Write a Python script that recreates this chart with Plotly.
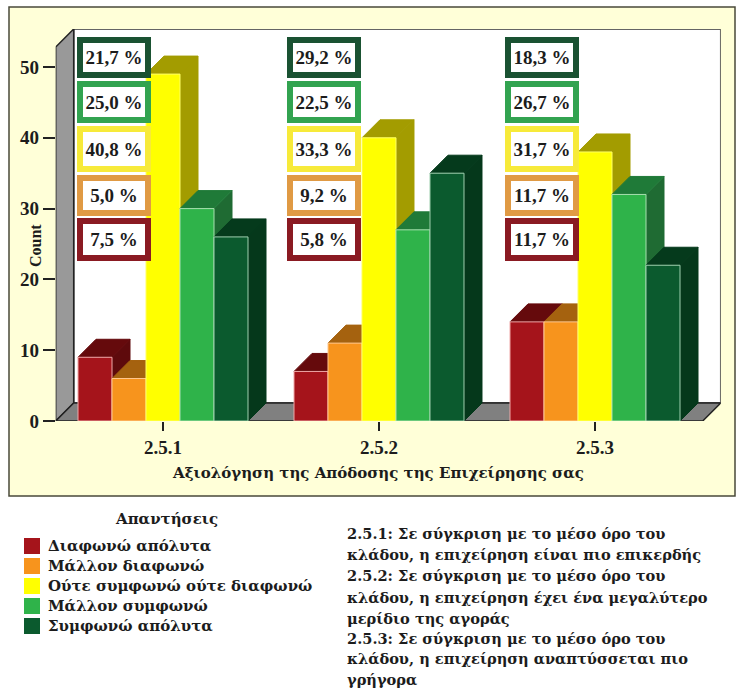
import plotly.graph_objects as go

# ---------- data ----------
categories = ["2.5.1", "2.5.2", "2.5.3"]
series_names = ["Διαφωνώ απόλυτα", "Μάλλον διαφωνώ", "Ούτε συμφωνώ ούτε διαφωνώ",
                "Μάλλον συμφωνώ", "Συμφωνώ απόλυτα"]
disagree_fully = [9, 7, 14]
disagree_rather = [6, 11, 14]
neutral = [49, 40, 38]
agree_rather = [30, 27, 32]
agree_fully = [26, 35, 22]
series_values = [disagree_fully, disagree_rather, neutral, agree_rather, agree_fully]

pct_agree_fully = ["21,7 %", "29,2 %", "18,3 %"]
pct_agree_rather = ["25,0 %", "22,5 %", "26,7 %"]
pct_neutral = ["40,8 %", "33,3 %", "31,7 %"]
pct_disagree_rather = ["5,0 %", "9,2 %", "11,7 %"]
pct_disagree_fully = ["7,5 %", "5,8 %", "11,7 %"]
pct_rows = [pct_agree_fully, pct_agree_rather, pct_neutral, pct_disagree_rather, pct_disagree_fully]

note_lines = [
    "2.5.1: Σε σύγκριση με το μέσο όρο του",
    "κλάδου, η επιχείρηση είναι πιο επικερδής",
    "2.5.2: Σε σύγκριση με το μέσο όρο του",
    "κλάδου, η επιχείρηση έχει ένα μεγαλύτερο",
    "μερίδιο της αγοράς",
    "2.5.3: Σε σύγκριση με το μέσο όρο του",
    "κλάδου, η επιχείρηση αναπτύσσεται πιο",
    "γρήγορα",
]

# ---------- styles ----------
W, H = 736, 688
FONT = "Liberation Serif"
WIDE = "DejaVu Serif"
INK = "#1c1c1c"
front_cols = ["#a5141b", "#f7941d", "#ffff00", "#2fb34a", "#0b5a2e"]
top_cols = ["#650a0c", "#a5620f", "#a39c00", "#1f7a38", "#053a1c"]
side_cols = ["#5e0a0c", "#a5620f", "#a39c00", "#1f6b33", "#05381b"]
edge_cols = ["#f0a8a8", "#ffc890", "#ffff66", "#a8e0b0", "#a0d0b0"]
box_cols = ["#1a5232", "#32a350", "#f7ea3a", "#e09a44", "#8a1a22"]
box_tops = [37, 81, 126, 175, 218]
box_bots = [78, 123, 172, 216, 261]
box_lefts = [77, 287, 505]
BOX_W = 74
BOX_BW = 6

# plot geometry in pixels
PL, PR, PT, PB = 55.7, 720.7, 29, 421
CX0, CSTEP = 163, 216
PX_PER_UNIT = 7.08
xr = [(PL - CX0) / CSTEP, (PR - CX0) / CSTEP]
yr = [0, (PB - PT) / PX_PER_UNIT]
DX = 18 / CSTEP
DY = 18 / PX_PER_UNIT
BW = 34 / CSTEP


def px(x):
    return x / W


def py(y):
    return 1 - y / H


fig = go.Figure()


def poly(xs, ys, fill, edge, name):
    fig.add_trace(go.Scatter(
        x=xs + xs[:1], y=ys + ys[:1], mode="lines", fill="toself", fillcolor=fill,
        line=dict(color=edge, width=1), name=name, showlegend=False, hoverinfo="name",
    ))


for c in range(len(categories)):
    for s, name in enumerate(series_names):
        v = series_values[s][c]
        x0 = c + (s - 2.5) * BW
        x1 = x0 + BW
        poly([x1, x1 + DX, x1 + DX, x1], [0, DY, v + DY, v], side_cols[s], side_cols[s], name)
        poly([x0, x0 + DX, x1 + DX, x1], [v, v + DY, v + DY, v], top_cols[s], top_cols[s], name)
        poly([x0, x1, x1, x0], [0, 0, v, v], front_cols[s], edge_cols[s], name)

shapes = [
    # panel
    dict(type="rect", xref="paper", yref="paper", x0=px(9), x1=px(735), y0=py(496), y1=py(7),
         fillcolor="#ffffd8", line=dict(color="#4a4a3a", width=1.5), layer="below"),
    # back wall
    dict(type="rect", xref="x", yref="y", x0=xr[0] + DX, x1=xr[1], y0=DY, y1=yr[1],
         fillcolor="#ffffff", line=dict(color="#333333", width=1.5), layer="below"),
    # left wall
    dict(type="path", xref="x", yref="y",
         path=f"M{xr[0]},0 L{xr[0]+DX},{DY} L{xr[0]+DX},{yr[1]} L{xr[0]},{yr[1]-DY} Z",
         fillcolor="#999999", line=dict(color="#222222", width=1.5), layer="below"),
    # floor
    dict(type="path", xref="x", yref="y",
         path=f"M{xr[0]},0 L{xr[0]+DX},{DY} L{xr[1]},{DY} L{xr[1]-DX},0 Z",
         fillcolor="#808080", line=dict(color="#222222", width=1.5), layer="below"),
]

annotations = []
# percentage boxes
for r, row in enumerate(pct_rows):
    h = box_bots[r] - box_tops[r]
    for c, txt in enumerate(row):
        annotations.append(dict(
            xref="paper", yref="paper", x=px(box_lefts[c] + BOX_W / 2), y=py((box_tops[r] + box_bots[r]) / 2),
            xanchor="center", yanchor="middle", text=f"<b>{txt}</b>", showarrow=False,
            width=BOX_W - 2 * BOX_BW, height=h - 2 * BOX_BW, borderwidth=BOX_BW, borderpad=0,
            bordercolor=box_cols[r], bgcolor="#ffffff", align="center",
            font=dict(family=FONT, size=19, color=INK),
        ))

# axis titles
annotations.append(dict(xref="paper", yref="paper", x=px(378), y=py(473), xanchor="center", yanchor="middle",
                        text="<b>Αξιολόγηση της Απόδοσης της Επιχείρησης σας</b>", showarrow=False,
                        font=dict(family=WIDE, size=15, color=INK)))
annotations.append(dict(xref="paper", yref="paper", x=px(36), y=py(246), xanchor="center", yanchor="middle",
                        text="<b>Count</b>", showarrow=False, textangle=-90,
                        font=dict(family=FONT, size=16, color=INK)))

# legend
annotations.append(dict(xref="paper", yref="paper", x=px(166), y=py(519), xanchor="center", yanchor="middle",
                        text="<b>Απαντήσεις</b>", showarrow=False, font=dict(family=WIDE, size=15, color=INK)))
for i, name in enumerate(series_names):
    yc = 546 + i * 20
    shapes.append(dict(type="rect", xref="paper", yref="paper", x0=px(24), x1=px(40), y0=py(yc + 8), y1=py(yc - 8),
                       fillcolor=front_cols[i], line=dict(width=0)))
    annotations.append(dict(xref="paper", yref="paper", x=px(46), y=py(yc), xanchor="left", yanchor="middle",
                            text=f"<b>{name}</b>", showarrow=False, font=dict(family=WIDE, size=15, color=INK)))

# notes
note_ys = [533, 554, 575, 597, 618, 638, 658, 679]
for y, line in zip(note_ys, note_lines):
    annotations.append(dict(xref="paper", yref="paper", x=px(345), y=py(y), xanchor="left", yanchor="middle",
                            text=f"<b>{line}</b>", showarrow=False, font=dict(family=WIDE, size=14.6, color=INK)))

fig.update_layout(
    width=W, height=H, autosize=False, margin=dict(l=0, r=0, t=0, b=0),
    paper_bgcolor="#ffffff", plot_bgcolor="rgba(0,0,0,0)", showlegend=False,
    shapes=shapes, annotations=annotations,
    xaxis=dict(domain=[px(PL), px(PR)], range=xr, tickmode="array", tickvals=list(range(len(categories))),
               ticktext=categories, ticks="outside", ticklen=9, tickwidth=1.5, tickcolor="#222222",
               tickfont=dict(family=FONT, size=19, color=INK, weight="bold"), showgrid=False, zeroline=False,
               showline=False, automargin=False),
    yaxis=dict(domain=[py(PB), py(PT)], range=yr, tickmode="array", tickvals=[0, 10, 20, 30, 40, 50],
               ticks="outside", ticklen=12, tickwidth=1.5, tickcolor="#222222",
               tickfont=dict(family=FONT, size=19, color=INK, weight="bold"), showgrid=False, zeroline=False,
               showline=False, automargin=False),
)

fig.write_html("out.html", config=dict(displayModeBar=False),
               post_script="document.body.style.margin='0';document.documentElement.style.overflow='hidden';")
